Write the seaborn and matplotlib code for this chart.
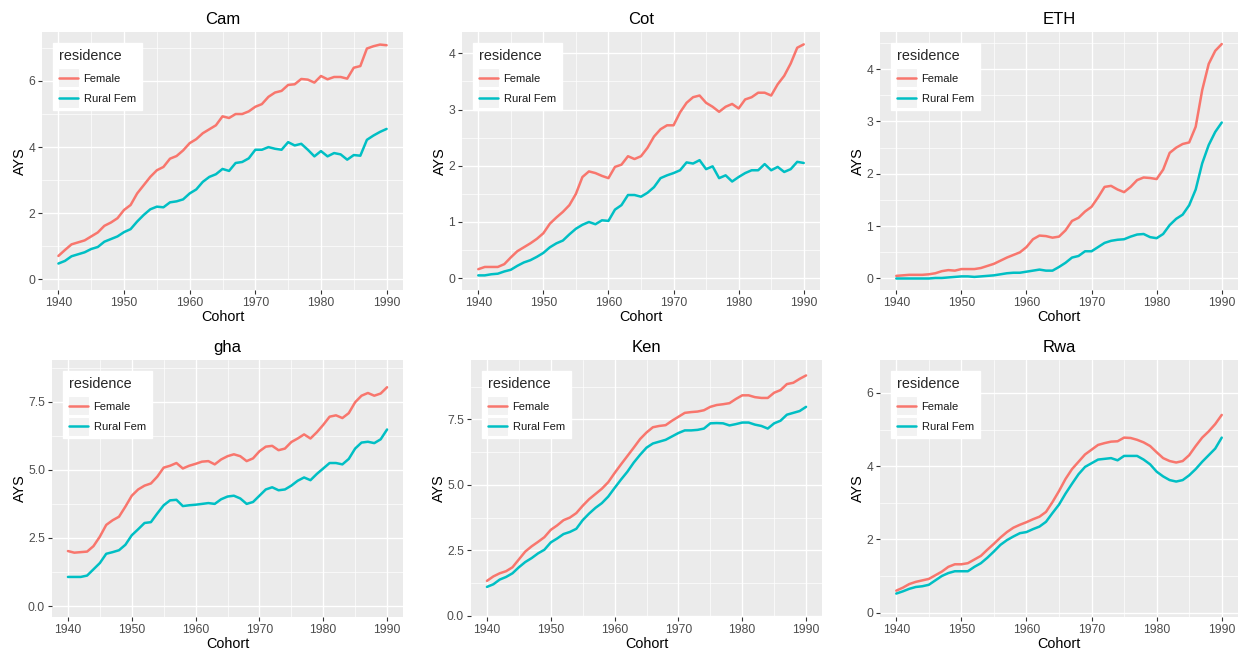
import numpy as np
import pandas as pd
import matplotlib
matplotlib.use("Agg")
import matplotlib.pyplot as plt
from matplotlib.patches import Rectangle
from matplotlib.legend_handler import HandlerLine2D
import seaborn as sns

cohort = np.arange(1940, 1991)
residence_levels = ["Female", "Rural Fem"]
countries = ["Cam", "Cot", "ETH", "gha", "Ken", "Rwa"]

cam_female = [0.71, 0.89, 1.06, 1.12, 1.18, 1.30, 1.42, 1.62, 1.72, 1.85,
              2.10, 2.25, 2.60, 2.85, 3.10, 3.30, 3.40, 3.65, 3.73, 3.90,
              4.12, 4.24, 4.42, 4.54, 4.66, 4.93, 4.88, 5.00, 5.00, 5.08,
              5.22, 5.30, 5.52, 5.65, 5.70, 5.88, 5.90, 6.06, 6.04, 5.95,
              6.15, 6.05, 6.12, 6.12, 6.07, 6.40, 6.45, 6.98, 7.05, 7.10,
              7.08]
cam_rural = [0.48, 0.56, 0.70, 0.76, 0.82, 0.92, 0.98, 1.14, 1.22, 1.30,
             1.43, 1.52, 1.75, 1.95, 2.12, 2.20, 2.18, 2.33, 2.36, 2.42,
             2.60, 2.72, 2.95, 3.10, 3.18, 3.34, 3.28, 3.52, 3.55, 3.66,
             3.92, 3.92, 4.00, 3.95, 3.92, 4.15, 4.05, 4.10, 3.92, 3.72,
             3.88, 3.72, 3.82, 3.78, 3.62, 3.76, 3.74, 4.22, 4.35, 4.46,
             4.55]
cot_female = [0.16, 0.20, 0.20, 0.20, 0.25, 0.37, 0.48, 0.55, 0.62, 0.70,
              0.80, 0.97, 1.08, 1.18, 1.30, 1.50, 1.80, 1.90, 1.87, 1.82,
              1.78, 1.98, 2.02, 2.17, 2.12, 2.17, 2.32, 2.52, 2.65, 2.72,
              2.72, 2.95, 3.12, 3.22, 3.25, 3.12, 3.05, 2.96, 3.05, 3.10,
              3.02, 3.18, 3.22, 3.30, 3.30, 3.25, 3.45, 3.60, 3.82, 4.10,
              4.16]
cot_rural = [0.05, 0.05, 0.07, 0.08, 0.12, 0.15, 0.22, 0.28, 0.32, 0.38,
             0.45, 0.55, 0.62, 0.67, 0.78, 0.88, 0.95, 1.00, 0.96, 1.03,
             1.02, 1.22, 1.30, 1.48, 1.48, 1.45, 1.52, 1.62, 1.78, 1.83,
             1.87, 1.92, 2.06, 2.04, 2.10, 1.94, 1.99, 1.78, 1.83, 1.72,
             1.80, 1.87, 1.92, 1.92, 2.03, 1.92, 1.98, 1.89, 1.94, 2.07,
             2.05]
eth_female = [0.05, 0.06, 0.07, 0.07, 0.07, 0.08, 0.10, 0.14, 0.16, 0.15,
              0.18, 0.18, 0.18, 0.20, 0.24, 0.28, 0.34, 0.40, 0.45, 0.50,
              0.60, 0.75, 0.82, 0.81, 0.78, 0.80, 0.92, 1.10, 1.16, 1.28,
              1.37, 1.55, 1.75, 1.77, 1.70, 1.65, 1.75, 1.88, 1.93, 1.92,
              1.90, 2.08, 2.40, 2.50, 2.57, 2.60, 2.90, 3.60, 4.10, 4.35,
              4.48]
eth_rural = [0.00, 0.00, 0.00, 0.00, 0.00, 0.00, 0.01, 0.01, 0.02, 0.03,
             0.04, 0.04, 0.03, 0.04, 0.05, 0.06, 0.08, 0.10, 0.11, 0.11,
             0.13, 0.15, 0.17, 0.15, 0.15, 0.22, 0.30, 0.40, 0.43, 0.52,
             0.52, 0.60, 0.68, 0.72, 0.74, 0.75, 0.80, 0.84, 0.85, 0.79,
             0.77, 0.85, 1.02, 1.14, 1.22, 1.40, 1.70, 2.20, 2.55, 2.80,
             2.98]
gha_female = [2.02, 1.96, 1.98, 2.00, 2.20, 2.55, 2.98, 3.15, 3.28, 3.65,
              4.05, 4.28, 4.42, 4.50, 4.75, 5.08, 5.15, 5.25, 5.05, 5.15,
              5.22, 5.30, 5.32, 5.20, 5.38, 5.50, 5.57, 5.50, 5.32, 5.42,
              5.68, 5.85, 5.88, 5.72, 5.78, 6.02, 6.15, 6.30, 6.15, 6.38,
              6.65, 6.95, 7.00, 6.90, 7.08, 7.48, 7.72, 7.82, 7.72, 7.80,
              8.03]
gha_rural = [1.07, 1.07, 1.07, 1.12, 1.35, 1.58, 1.92, 1.98, 2.05, 2.25,
             2.60, 2.82, 3.05, 3.08, 3.40, 3.70, 3.88, 3.90, 3.67, 3.70,
             3.72, 3.75, 3.78, 3.75, 3.92, 4.02, 4.05, 3.95, 3.75, 3.82,
             4.05, 4.28, 4.36, 4.25, 4.28, 4.42, 4.60, 4.72, 4.62, 4.85,
             5.05, 5.25, 5.25, 5.20, 5.40, 5.78, 6.00, 6.03, 5.98, 6.12,
             6.48]
ken_female = [1.33, 1.50, 1.62, 1.70, 1.85, 2.15, 2.45, 2.65, 2.82, 3.00,
              3.28, 3.45, 3.65, 3.75, 3.92, 4.20, 4.45, 4.65, 4.85, 5.10,
              5.45, 5.78, 6.10, 6.42, 6.75, 7.00, 7.20, 7.25, 7.28, 7.45,
              7.60, 7.75, 7.78, 7.80, 7.85, 7.98, 8.05, 8.08, 8.12, 8.28,
              8.42, 8.42, 8.35, 8.32, 8.32, 8.52, 8.62, 8.85, 8.90, 9.05,
              9.18]
ken_rural = [1.10, 1.20, 1.38, 1.48, 1.62, 1.85, 2.05, 2.20, 2.38, 2.52,
             2.80, 2.95, 3.12, 3.20, 3.32, 3.65, 3.90, 4.12, 4.30, 4.55,
             4.88, 5.20, 5.50, 5.85, 6.15, 6.42, 6.58, 6.65, 6.72, 6.85,
             6.98, 7.08, 7.08, 7.10, 7.15, 7.35, 7.36, 7.35, 7.27, 7.32,
             7.38, 7.38, 7.30, 7.25, 7.15, 7.35, 7.45, 7.68, 7.75, 7.82,
             7.98]
rwa_female = [0.60, 0.68, 0.78, 0.84, 0.88, 0.92, 1.02, 1.12, 1.25, 1.32,
              1.32, 1.35, 1.45, 1.55, 1.72, 1.88, 2.05, 2.20, 2.32, 2.40,
              2.47, 2.55, 2.62, 2.75, 3.02, 3.32, 3.65, 3.92, 4.12, 4.32,
              4.45, 4.58, 4.63, 4.67, 4.68, 4.78, 4.77, 4.72, 4.65, 4.55,
              4.38, 4.22, 4.14, 4.10, 4.14, 4.30, 4.55, 4.78, 4.95, 5.15,
              5.40]
rwa_rural = [0.52, 0.58, 0.65, 0.70, 0.72, 0.76, 0.88, 1.00, 1.08, 1.13,
             1.13, 1.13, 1.25, 1.35, 1.50, 1.67, 1.85, 1.98, 2.08, 2.17,
             2.20, 2.28, 2.35, 2.48, 2.72, 2.95, 3.25, 3.52, 3.78, 3.98,
             4.08, 4.18, 4.20, 4.22, 4.16, 4.28, 4.28, 4.28, 4.18, 4.05,
             3.85, 3.72, 3.62, 3.58, 3.62, 3.75, 3.92, 4.12, 4.30, 4.48,
             4.78]

x_ticks = [1940, 1950, 1960, 1970, 1980, 1990]
y_ticks = {
    "Cam": [0, 2, 4, 6], "Cot": [0, 1, 2, 3, 4], "ETH": [0, 1, 2, 3, 4],
    "gha": [0, 2.5, 5, 7.5], "Ken": [0, 2.5, 5, 7.5], "Rwa": [0, 2, 4, 6],
}
y_ticklabels = {
    "Cam": ["0", "2", "4", "6"], "Cot": ["0", "1", "2", "3", "4"],
    "ETH": ["0", "1", "2", "3", "4"], "gha": ["0.0", "2.5", "5.0", "7.5"],
    "Ken": ["0.0", "2.5", "5.0", "7.5"], "Rwa": ["0", "2", "4", "6"],
}
y_minor = {
    "Cam": [1, 3, 5, 7], "Cot": [0.5, 1.5, 2.5, 3.5], "ETH": [0.5, 1.5, 2.5, 3.5, 4.5],
    "gha": [1.25, 3.75, 6.25, 8.75], "Ken": [1.25, 3.75, 6.25, 8.75], "Rwa": [1, 3, 5],
}
x_minor = [1945, 1955, 1965, 1975, 1985]
y_limits = {
    "Cam": (-0.32, 7.48), "Cot": (-0.21, 4.38), "ETH": (-0.22, 4.71),
    "gha": (-0.40, 9.03), "Ken": (-0.05, 9.77), "Rwa": (-0.12, 6.90),
}

series = {
    "Cam": (cam_female, cam_rural), "Cot": (cot_female, cot_rural),
    "ETH": (eth_female, eth_rural), "gha": (gha_female, gha_rural),
    "Ken": (ken_female, ken_rural), "Rwa": (rwa_female, rwa_rural),
}
frames = []
for c in countries:
    f, r = series[c]
    frames.append(pd.DataFrame({"country": c, "Cohort": cohort, "AYS": f, "residence": "Female"}))
    frames.append(pd.DataFrame({"country": c, "Cohort": cohort, "AYS": r, "residence": "Rural Fem"}))
df = pd.concat(frames, ignore_index=True)

W, H = 1238, 652
# panel boxes in pixels: left, top, right, bottom
boxes = {
    "Cam": (42, 32, 403, 290), "Cot": (462, 32, 820, 290), "ETH": (880, 32, 1238, 290),
    "gha": (52, 360, 403, 617), "Ken": (471, 360, 822, 617), "Rwa": (880, 360, 1238, 617),
}

sns.set_theme(style="darkgrid")
plt.rcParams["font.family"] = ["Liberation Sans", "DejaVu Sans"]

palette = {"Female": "#F8766D", "Rural Fem": "#00BFC4"}


class KeyHandler(HandlerLine2D):
    def create_artists(self, legend, orig_handle, xdescent, ydescent, width, height, fontsize, trans):
        bg = Rectangle((-xdescent - 1, -ydescent - 4), width + 2, height + 8,
                       facecolor="#F2F2F2", edgecolor="white", lw=0.8, transform=trans)
        arts = super().create_artists(legend, orig_handle, xdescent, ydescent, width, height, fontsize, trans)
        return [bg] + list(arts)


fig = plt.figure(figsize=(W / 100, H / 100), dpi=100)
fig.patch.set_facecolor("white")

for c in countries:
    l, t, r, b = boxes[c]
    ax = fig.add_axes([l / W, 1 - b / H, (r - l) / W, (b - t) / H])
    sub = df[df["country"] == c]
    sns.lineplot(data=sub, x="Cohort", y="AYS", hue="residence", hue_order=residence_levels,
                 palette=palette, linewidth=1.8, ax=ax, legend=True)
    ax.set_facecolor("#EBEBEB")
    for s in ax.spines.values():
        s.set_visible(False)
    ax.set_xlim(1937.5, 1992.5)
    ax.set_ylim(*y_limits[c])
    ax.set_xticks(x_ticks)
    ax.set_xticklabels([str(v) for v in x_ticks])
    ax.set_yticks(y_ticks[c])
    ax.set_yticklabels(y_ticklabels[c])
    ax.set_xticks(x_minor, minor=True)
    ax.set_yticks(y_minor[c], minor=True)
    ax.grid(which="major", color="white", linewidth=1.0)
    ax.grid(which="minor", color="white", linewidth=0.5)
    ax.set_axisbelow(True)
    ax.tick_params(which="major", length=3, width=0.8, color="#333333",
                   labelsize=8.7, labelcolor="#4D4D4D", pad=2,
                   bottom=True, left=True)
    ax.tick_params(which="minor", length=0)
    ax.set_title(c, fontsize=12, color="black", pad=6)
    ax.set_xlabel("Cohort", fontsize=10.4, color="black", labelpad=1)
    ax.set_ylabel("AYS", fontsize=10.4, color="black", labelpad=1)

    handles, labels = ax.get_legend_handles_labels()
    pw, ph = r - l, b - t
    leg = ax.legend(handles, labels, title="residence", loc="upper left",
                    bbox_to_anchor=(11 / pw, 1 - 11 / ph), borderaxespad=0,
                    frameon=True, fancybox=False, framealpha=1, edgecolor="white",
                    facecolor="white", fontsize=8, title_fontsize=10.4,
                    handlelength=1.7, handletextpad=0.5, labelspacing=0.95,
                    borderpad=0.55, handler_map={type(handles[0]): KeyHandler()})
    leg._legend_box.align = "left"
    for line in leg.get_lines():
        line.set_linewidth(2.0)
    for txt in leg.get_texts():
        txt.set_color("#1A1A1A")

fig.savefig("out.png", dpi=100)
